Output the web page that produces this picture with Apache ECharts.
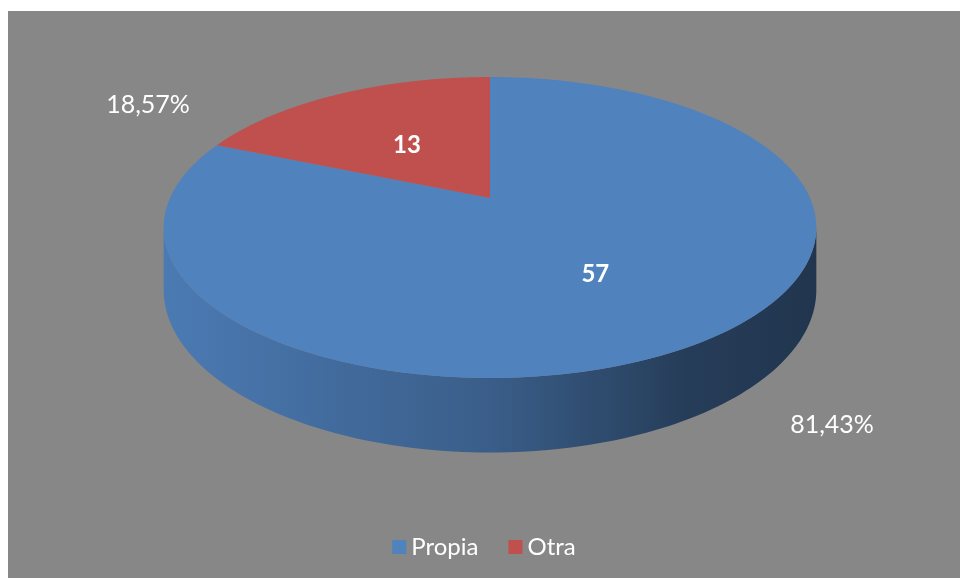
<!DOCTYPE html>
<html>
<head>
    <meta charset="utf-8">
    <title>Propia / Otra</title>
    <script src="https://cdn.jsdelivr.net/npm/echarts@6/dist/echarts.min.js"></script>
    <style>
        body { margin: 0; background: #ffffff; }
        #main { position: absolute; left: 8px; top: 11px; width: 952px; height: 567px; }
    </style>
</head>
<body>
    <div id="main"></div>
    <script type="text/javascript">
        // datos
        var categories = ['Propia', 'Otra'];
        var values = [57, 13];
        var colors = ['#5082BE', '#C0504D'];

        // geometria de la tarta 3D (pixeles dentro del grafico)
        var CX = 482, CY = 187, RX = 320, RY = 144.7, K = 0.196, DEPTH = 60;
        var LABEL_FONT = 'Lato, "Open Sans", sans-serif';

        var total = values.reduce(function (a, b) { return a + b; }, 0);

        // angulo medido desde las 12 en sentido horario, r = fraccion del radio
        function project(theta, r) {
            var u = Math.sin(theta) * r, v = Math.cos(theta) * r;
            var f = 1 / (1 + K * v);
            return { x: CX + RX * u * f, y: CY - RY * v * f, f: f };
        }

        function fmtPct(p) {
            return p.toFixed(2).replace('.', ',') + '%';
        }

        // oscurece un color hex multiplicando sus canales
        function shade(hex, k) {
            var n = parseInt(hex.slice(1), 16);
            var r = Math.round(((n >> 16) & 255) * k);
            var g = Math.round(((n >> 8) & 255) * k);
            var b = Math.round((n & 255) * k);
            return 'rgb(' + r + ',' + g + ',' + b + ')';
        }

        // limites visibles del lateral (tangentes de la silueta)
        var T_R = Math.acos(-K), T_L = 2 * Math.PI - Math.acos(-K);

        function renderSlice(idx) {
            return function (params, api) {
                var val = api.value(0);
                var before = values.slice(0, idx).reduce(function (a, b) { return a + b; }, 0);
                var a0 = before / total * 2 * Math.PI;
                var a1 = a0 + val / total * 2 * Math.PI;
                var color = colors[idx];
                var children = [];
                var n = 120, i, t, p;

                // lateral
                var w0 = Math.max(a0, T_R), w1 = Math.min(a1, T_L);
                if (w1 > w0) {
                    var topPts = [], botPts = [];
                    for (i = 0; i <= n; i++) {
                        t = w0 + (w1 - w0) * i / n;
                        p = project(t, 1);
                        topPts.push([p.x, p.y]);
                        botPts.push([p.x, p.y + DEPTH * p.f]);
                    }
                    var wallFill = {
                        type: 'linear', global: true,
                        x: CX - RX * 1.02, y: 0, x2: CX + RX * 1.02, y2: 0,
                        colorStops: [
                            { offset: 0, color: shade(color, 0.94) },
                            { offset: 0.5, color: shade(color, 0.72) },
                            { offset: 0.8, color: shade(color, 0.47) },
                            { offset: 1, color: shade(color, 0.41) }
                        ]
                    };
                    children.push({
                        type: 'polygon', z2: 1,
                        shape: { points: topPts.concat(botPts.reverse()) },
                        style: { fill: wallFill }
                    });
                }

                // cara superior
                var pts = [[CX, CY]];
                for (i = 0; i <= n; i++) {
                    t = a0 + (a1 - a0) * i / n;
                    p = project(t, 1);
                    pts.push([p.x, p.y]);
                }
                children.push({
                    type: 'polygon', z2: 10,
                    shape: { points: pts },
                    style: { fill: color }
                });

                // etiqueta de valor
                var mid = (a0 + a1) / 2;
                var pin = project(mid, 0.53);
                children.push({
                    type: 'text', z2: 20,
                    style: {
                        x: pin.x + 3, y: pin.y + 6, text: String(val),
                        fill: '#ffffff', font: 'bold 24px ' + LABEL_FONT,
                        align: 'center', verticalAlign: 'middle'
                    }
                });

                // etiqueta de porcentaje
                var pout = project(mid, 1);
                var side = Math.sin(mid) >= 0 ? 1 : -1;
                var rimY = Math.cos(mid) < 0 ? pout.y + DEPTH * pout.f : pout.y;
                children.push({
                    type: 'text', z2: 20,
                    style: {
                        x: CX + side * (RX + 22), y: rimY + 11,
                        text: fmtPct(val / total * 100),
                        fill: '#ffffff', font: '25px ' + LABEL_FONT,
                        align: 'center', verticalAlign: 'middle'
                    }
                });

                return { type: 'group', children: children };
            };
        }

        var chart = echarts.init(document.getElementById('main'));
        chart.setOption({
            backgroundColor: '#878787',
            animation: false,
            legend: {
                data: categories,
                bottom: 14,
                left: 'center',
                icon: 'rect',
                itemWidth: 14,
                itemHeight: 14,
                itemGap: 30,
                textStyle: { color: '#ffffff', fontSize: 24, fontFamily: LABEL_FONT }
            },
            series: categories.map(function (name, idx) {
                return {
                    name: name,
                    type: 'custom',
                    coordinateSystem: 'none',
                    itemStyle: { color: colors[idx] },
                    renderItem: renderSlice(idx),
                    data: [[values[idx]]]
                };
            })
        });
    </script>
</body>
</html>
